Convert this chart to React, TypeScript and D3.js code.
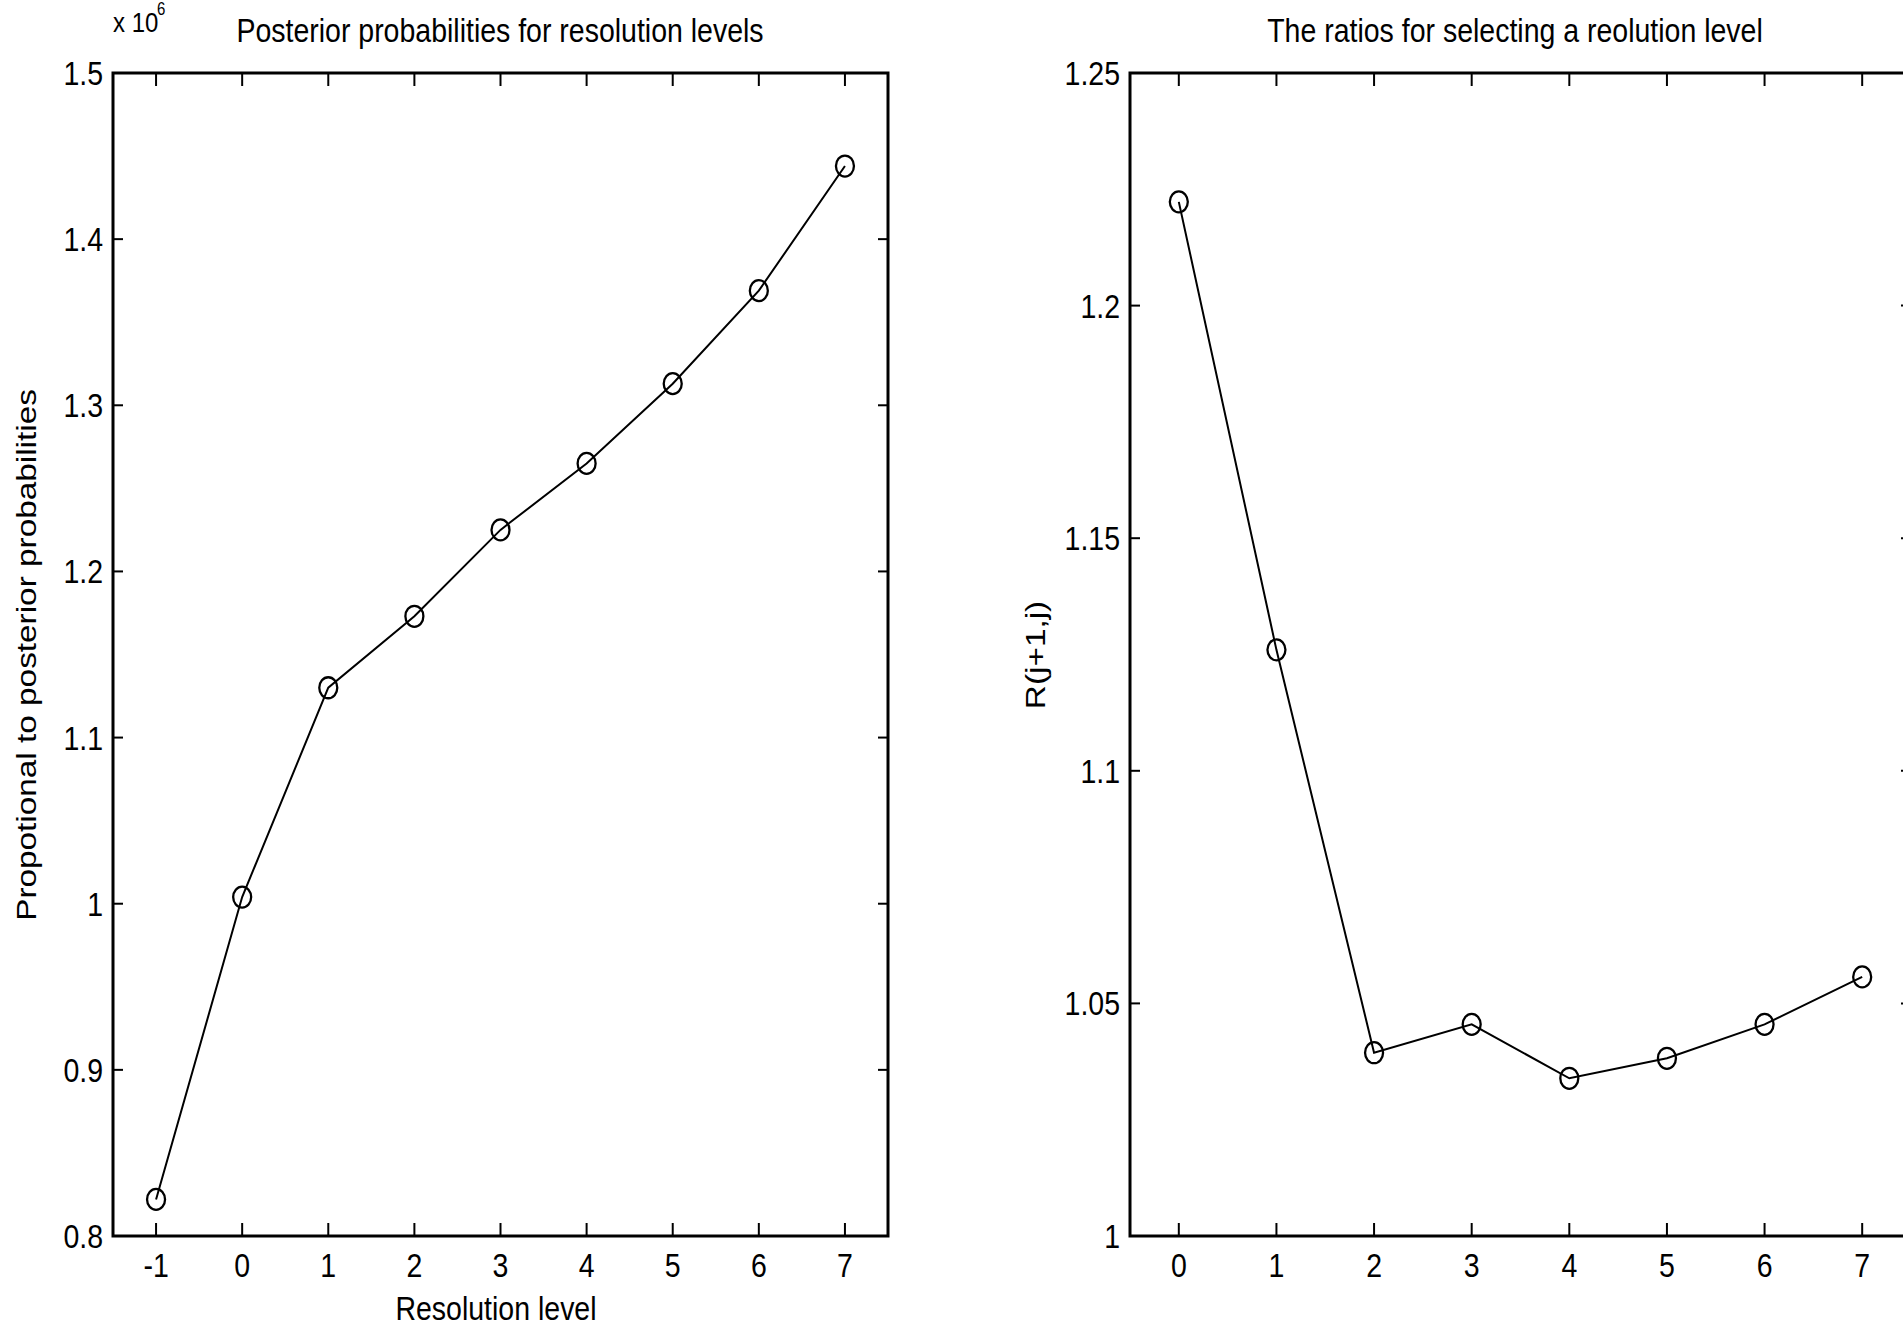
import React from "react";
import * as d3 from "d3";

// ---- data ----
const leftLevels = [-1, 0, 1, 2, 3, 4, 5, 6, 7];
const posterior = [0.822, 1.004, 1.13, 1.173, 1.225, 1.265, 1.313, 1.369, 1.444]; // x 10^6
const leftYTicks = [0.8, 0.9, 1, 1.1, 1.2, 1.3, 1.4, 1.5];
const leftYLabels = ["0.8", "0.9", "1", "1.1", "1.2", "1.3", "1.4", "1.5"];
const leftXTicks = [-1, 0, 1, 2, 3, 4, 5, 6, 7];
const leftXLabels = ["-1", "0", "1", "2", "3", "4", "5", "6", "7"];

const rightLevels = [0, 1, 2, 3, 4, 5, 6, 7];
const ratios = [1.2223, 1.126, 1.0394, 1.0455, 1.0339, 1.0382, 1.0455, 1.0557];
const rightYTicks = [1, 1.05, 1.1, 1.15, 1.2, 1.25];
const rightYLabels = ["1", "1.05", "1.1", "1.15", "1.2", "1.25"];
const rightXTicks = [0, 1, 2, 3, 4, 5, 6, 7];
const rightXLabels = ["0", "1", "2", "3", "4", "5", "6", "7"];

const leftTitle = "Posterior probabilities for resolution levels";
const rightTitle = "The ratios for selecting a reolution level";
const leftYTitle = "Propotional to posterior probabilities";
const rightYTitle = "R(j+1,j)";
const xTitle = "Resolution level";

const W = 1903;
const H = 1338;
const SY = 1.17; // vertical stretch of the scanned figure
const FONT = "'Liberation Sans', Arial, sans-serif";
const FS = 28.5;

function Txt({ x, y, anchor = "middle", rotate = 0, size = FS, dy = "0", children }: any) {
  return (
    <text
      transform={`translate(${x},${y}) scale(1,${SY})${rotate ? ` rotate(${rotate})` : ""}`}
      textAnchor={anchor}
      fontSize={size}
      fontFamily={FONT}
      dy={dy}
      fill="#000"
    >
      {children}
    </text>
  );
}

function Panel({ x0, x1, y0, y1, xDomain, yDomain, xs, ys, xTicks, xLabels, yTicks, yLabels }: any) {
  const xScale = d3.scaleLinear().domain(xDomain).range([x0, x1]);
  const yScale = d3.scaleLinear().domain(yDomain).range([y1, y0]);
  const pts = xs.map((v: number, i: number) => [xScale(v), yScale(ys[i])] as [number, number]);
  const line = d3.line()(pts) || "";
  const yTL = 10;
  const xTL = 13;
  return (
    <g>
      {/* ticks */}
      {xTicks.map((t: number, i: number) => (
        <g key={"xt" + i}>
          <line x1={xScale(t)} x2={xScale(t)} y1={y1} y2={y1 - xTL} stroke="#000" strokeWidth={2} />
          <line x1={xScale(t)} x2={xScale(t)} y1={y0} y2={y0 + xTL} stroke="#000" strokeWidth={2} />
          <Txt x={xScale(t)} y={1277}>{xLabels[i]}</Txt>
        </g>
      ))}
      {yTicks.map((t: number, i: number) => (
        <g key={"yt" + i}>
          <line x1={x0} x2={x0 + yTL} y1={yScale(t)} y2={yScale(t)} stroke="#000" strokeWidth={2} />
          <line x1={x1} x2={x1 - yTL} y1={yScale(t)} y2={yScale(t)} stroke="#000" strokeWidth={2} />
          <Txt x={x0 - 10} y={yScale(t)} anchor="end" dy="0.36em">{yLabels[i]}</Txt>
        </g>
      ))}
      {/* box */}
      <rect x={x0} y={y0} width={x1 - x0} height={y1 - y0} fill="none" stroke="#000" strokeWidth={3} />
      {/* data */}
      <path d={line} fill="none" stroke="#000" strokeWidth={2} />
      {pts.map((p: [number, number], i: number) => (
        <ellipse key={"m" + i} cx={p[0]} cy={p[1]} rx={9} ry={10.5} fill="none" stroke="#000" strokeWidth={2.3} />
      ))}
    </g>
  );
}

export default function App() {
  return (
    <svg
      width={W}
      height={H}
      viewBox={`0 0 ${W} ${H}`}
      style={{ position: "absolute", left: 0, top: 0, background: "#fff", display: "block" }}
    >
      <rect x={0} y={0} width={W} height={H} fill="#fff" />
      <Panel
        x0={113}
        x1={888}
        y0={73}
        y1={1236}
        xDomain={[-1.5, 7.5]}
        yDomain={[0.8, 1.5]}
        xs={leftLevels}
        ys={posterior}
        xTicks={leftXTicks}
        xLabels={leftXLabels}
        yTicks={leftYTicks}
        yLabels={leftYLabels}
      />
      <Panel
        x0={1130}
        x1={1911}
        y0={73}
        y1={1236}
        xDomain={[-0.5, 7.5]}
        yDomain={[1, 1.25]}
        xs={rightLevels}
        ys={ratios}
        xTicks={rightXTicks}
        xLabels={rightXLabels}
        yTicks={rightYTicks}
        yLabels={rightYLabels}
      />
      {/* titles */}
      <Txt x={500} y={42}>{leftTitle}</Txt>
      <Txt x={1515} y={42}>{rightTitle}</Txt>
      {/* exponent */}
      <Txt x={113} y={32} anchor="start" size={24}>x 10</Txt>
      <Txt x={157} y={15} anchor="start" size={15}>6</Txt>
      {/* axis labels */}
      <Txt x={496} y={1320}>{xTitle}</Txt>
      <Txt x={36} y={655} rotate={-90}>{leftYTitle}</Txt>
      <Txt x={1045} y={655} rotate={-90}>{rightYTitle}</Txt>
    </svg>
  );
}
